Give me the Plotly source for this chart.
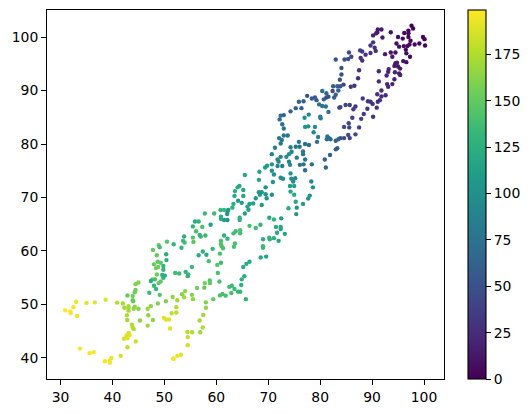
import plotly.graph_objects as go

# upper band
x_a = [97.6,97.9,97.0,97.0,96.2,99.8,100.1,95.0,95.9,97.0,97.4,98.2,99.1,100.2,94.7,95.2,96.1,96.8,97.2,96.5,
       96.6,97.3,96.0,96.6,94.5,93.6,92.5,93.9,93.6,91.1,91.8,91.0,90.8,90.2,92.0,90.2,89.7,90.5,90.7,89.7,
       88.75,87.7,88.1,87.8,88.1,85.55,86.0,85.4,84.7,83.0,84.1,84.1,83.8,84.5,82.5,83.3,83.9,83.5,82.4,83.0,
       82.7,81.2,80.4,80.7,81.6,81.2,77.5,78.4,79.0,79.3,76.8,75.9,75.3,76.4,74.3,73.0,72.4,72.2,72.7,73.0,
       72.1,73.0,73.75,79.8,80.4,81.1,80.0,80.1,81.6,77.8,77.0,77.1,77.7,79.0,78.75,79.6,81.4,81.7,83.9,83.7,
       84.9,85.7,86.8,86.4,88.2,89.1,89.2,89.7,90.1,91.1,91.5,91.8,92.6,90.9,90.2,88.4,87.9,86.2,85.5,84.6,
       85.6,87.5,86.8,85.4,83.9,84.6,85.7,91.0,91.8,92.9,93.1,93.9,94.3,95.2,95.4,94.4,93.2,93.1,92.8,91.3,
       91.3,87.5,87.3,86.6,85.9,94.5,94.8,94.3,95.4,95.0]
y_a = [102.1,101.6,101.2,100.7,100.75,100.0,99.6,100.0,99.7,100.0,99.3,98.6,98.8,98.4,98.8,98.2,98.3,98.3,98.6,97.6,
       96.95,96.3,95.5,95.3,97.1,97.1,96.8,96.3,100.9,101.4,101.4,100.9,100.7,100.3,99.9,99.0,98.4,98.0,97.4,97.0,
       96.7,97.5,97.3,96.1,95.6,97.1,96.3,95.9,95.8,95.8,94.2,93.0,92.0,91.1,90.8,90.8,90.8,90.0,89.9,89.2,
       88.7,89.5,89.9,88.35,88.85,88.7,89.0,88.5,88.7,88.2,88.0,87.9,86.7,86.7,86.1,85.4,85.3,84.6,83.7,82.9,
       81.1,81.6,81.6,87.4,87.1,87.0,85.1,84.8,86.0,85.5,84.9,83.2,83.3,83.2,82.2,81.3,81.4,81.1,86.9,86.8,
       87.3,87.3,87.0,86.5,88.5,86.6,88.0,87.9,87.5,87.9,88.2,88.9,89.1,86.8,85.1,85.6,84.7,84.9,83.9,83.2,
       83.1,83.1,81.8,81.7,81.1,81.1,81.1,89.3,90.0,91.2,90.7,91.2,92.1,93.2,92.9,93.4,94.0,93.5,92.8,93.6,
       91.7,93.8,92.3,90.9,90.7,95.1,95.2,94.6,94.1,94.5]
c_a = [2,3,3,5,5,3,2,8,6,4,4,4,3,2,9,9,7,6,5,7,
       8,7,10,9,11,13,15,14,10,14,13,15,16,17,14,30,32,28,27,30,
       28,36,35,30,29,45,45,47,48,52,50,50,52,40,58,57,55,60,42,62,
       60,68,70,65,50,48,52,55,58,60,62,60,62,62,62,65,68,70,72,75,
       80,78,76,72,78,80,85,88,68,92,100,102,100,95,92,88,75,72,42,42,
       40,38,33,35,35,33,32,30,30,26,26,25,24,28,30,35,38,42,42,45,
       42,38,44,44,46,45,42,27,25,22,22,20,19,18,18,19,20,20,21,24,
       24,28,28,30,32,14,14,16,16,15]

# middle band
x_b = [81.3,82.0,83.0,83.5,72.6,72.4,71.3,74.3,75.3,76.05,77.1,77.85,75.9,79.4,83.3,83.0,81.9,80.9,81.1,78.4,
       77.1,76.8,76.1,77.1,76.7,76.7,75.5,74.5,74.0,73.5,72.4,70.7,71.8,72.0,74.0,74.2,72.7,71.8,70.7,69.8,
       69.4,68.3,70.7,71.1,74.3,72.4,72.85,74.45,75.2,74.8,70.9,68.2,65.5,69.5,74.2,75.0,78.3,78.6,74.3,75.0,
       78.0,77.7,75.3,76.7,75.5,73.9,75.4,70.7,69.5,68.75,68.2,68.4,67.6,69.7,68.75,67.1,66.4,66.0,66.2,65.5,
       64.45,64.1,63.6,65.2,65.2,63.5,64.2,64.9,63.3,63.1,62.3,62.15,61.5,60.8,62.1,59.6,57.8,60.9,60.9,61.5,
       62.15,64.5,64.5,70.2,71.1,72.5,68.5,67.6,66.4,64.6,64.6,63.75,63.3,58.9,55.9,56.6,55.5,57.3,56.1,56.8,
       57.0,57.9,53.8,53.6,53.9,55.5,55.6,53.3,61.5,62.15,60.9,60.9,61.05,61.3,63.6,63.4,59.3,57.4,58.1,56.6,
       60.7,68.55,69.0,69.0,69.0,69.6,70.2,70.3,71.1,72.0,71.5,72.4,72.4,71.7,73.2]
y_b = [80.9,80.9,80.6,80.9,80.75,80.1,79.3,79.4,79.5,79.5,80.0,79.8,80.4,80.4,79.2,79.0,77.95,77.1,75.6,76.2,
       77.1,76.2,76.1,75.1,78.6,78.1,77.45,78.55,78.1,77.6,77.6,78.1,77.1,76.7,76.7,76.1,75.9,75.9,76.2,75.95,
       75.6,74.8,75.0,74.3,74.5,73.7,73.5,73.5,73.6,73.0,72.9,73.3,74.2,71.9,72.15,72.15,73.0,71.9,71.1,70.5,
       70.35,69.8,69.2,68.8,68.1,68.0,66.9,70.5,70.6,71.0,71.0,70.5,69.85,69.85,68.6,68.9,68.8,68.3,67.7,67.0,
       72.15,71.9,71.2,71.4,70.3,70.3,69.4,69.0,68.8,68.1,67.65,67.35,67.65,67.65,66.9,67.0,67.0,66.4,66.0,65.8,
       65.8,66.2,65.8,66.2,65.9,66.1,64.9,64.3,64.7,63.9,63.3,63.7,63.3,64.9,65.5,65.5,64.6,64.5,63.7,63.0,
       62.7,62.9,62.7,61.9,61.6,62.5,61.7,60.6,62.9,62.3,61.9,61.3,60.9,60.5,61.4,60.8,60.4,59.9,59.3,59.2,
       59.5,58.8,62.2,60.9,60.6,58.95,62.5,62.2,62.4,61.9,64.5,64.5,64.1,63.4,63.2]
c_b = [72,68,62,60,75,78,85,85,80,80,72,72,80,72,58,58,62,62,65,72,
       75,75,78,72,78,80,82,92,100,100,90,88,92,92,88,92,85,90,105,108,
       110,115,100,100,100,95,95,96,92,96,100,115,118,100,108,112,92,98,116,120,
       100,100,120,108,106,122,104,98,102,105,105,105,106,100,108,110,112,116,115,112,
       120,122,125,118,115,122,108,108,125,126,105,105,130,132,105,135,135,125,125,108,
       106,128,128,120,130,110,130,138,138,140,140,138,138,110,122,128,130,140,140,130,
       132,135,125,135,138,145,146,130,125,130,140,142,142,142,140,140,130,125,120,125,
       140,118,125,135,135,115,130,128,125,115,120,118,118,118,115]

# lower band
x_c = [47.8,48.9,49.1,50.5,51.8,48.55,50.35,50.4,48.0,48.7,49.3,49.8,48.8,48.4,49.8,48.55,49.6,50.1,49.8,52.1,
       52.85,47.7,48.2,47.4,49.3,48.9,48.0,48.4,47.1,49.1,45.0,44.45,44.45,44.3,42.9,43.9,43.9,44.0,50.3,48.75,
       47.4,46.8,46.9,47.8,46.8,45.3,43.1,42.3,43.1,43.1,44.3,44.1,45.0,42.0,40.9,42.8,42.85,43.75,43.9,44.1,
       43.1,43.3,42.7,42.9,42.2,44.5,42.9,38.7,36.6,35.0,33.0,32.5,30.9,31.9,31.95,33.2,33.75,35.6,36.4,41.6,
       39.8,39.45,39.5,38.55,49.9,50.3,50.9,51.1,51.4,52.3,52.3,52.5,51.6,53.4,54.0,53.8,55.3,55.5,56.3,57.7,
       57.8,58.75,58.8,60.6,60.3,58.0,58.0,59.4,57.5,56.8,57.4,56.9,55.35,54.45,54.5,54.5,53.2,52.5,51.7,51.8,
       60.7,61.2,61.8,62.9,62.5,63.0,63.5,64.2,64.6,65.7,64.8,64.9,65.4,65.2,65.8,66.4,58.55,60.2,60.9,55.3,
       54.1,54.6,54.5]
y_c = [60.2,61.1,60.7,61.75,61.25,59.2,59.4,58.3,57.5,58.0,57.8,57.2,57.0,56.8,56.5,55.6,55.5,55.4,55.0,55.9,
       55.8,54.7,54.7,54.4,54.3,54.0,53.5,52.9,52.2,51.8,54.1,53.8,52.7,52.3,51.7,51.6,50.8,50.6,50.6,50.2,
       49.7,49.2,48.0,47.1,46.05,47.0,49.7,49.4,49.3,48.85,49.6,49.2,49.2,50.2,50.35,48.0,47.1,46.2,45.7,45.4,
       44.7,44.3,44.2,43.7,43.6,43.1,42.0,50.9,50.4,50.3,50.5,49.5,48.9,48.7,48.4,47.85,41.75,40.9,41.1,40.4,
       40.0,39.5,39.1,39.4,47.5,47.2,47.2,45.5,48.35,48.5,49.5,50.8,51.4,51.9,52.5,51.35,51.8,51.0,53.1,53.15,
       54.0,54.5,54.0,54.3,55.9,50.4,49.4,51.0,48.05,47.0,45.7,44.8,44.8,44.85,43.9,42.4,40.6,40.4,39.9,39.8,
       51.7,51.96,51.65,52.15,53.3,53.5,52.9,52.4,52.4,51.0,53.65,54.7,55.3,57.0,57.6,58.0,58.1,57.4,57.8,57.0,
       56.1,55.6,55.3]
c_c = [150,145,140,145,130,150,125,125,150,150,148,130,155,155,130,155,125,125,128,135,
       135,150,140,125,150,150,130,132,135,145,160,160,155,155,150,155,152,150,160,160,
       165,168,165,165,170,165,172,170,172,172,165,165,160,172,176,175,172,175,176,176,
       187,190,188,190,188,182,180,188,190,192,195,196,198,197,197,195,197,197,197,187,
       193,195,196,195,190,190,190,190,180,178,176,170,165,162,165,170,160,165,155,150,
       155,145,148,140,140,160,165,150,170,172,175,170,175,178,180,185,190,193,195,196,
       140,140,140,140,138,135,135,130,130,128,128,125,125,125,125,122,140,145,135,135,
       130,130,130]

x_values = x_a + x_b + x_c
y_values = y_a + y_b + y_c
c_values = c_a + c_b + c_c
colorbar_ticks = [0, 25, 50, 75, 100, 125, 150, 175]

FONT = dict(family="DejaVu Sans", size=13.9, color="#000000")

fig = go.Figure(go.Scatter(
    x=x_values, y=y_values, mode="markers",
    marker=dict(
        size=4.4, color=c_values, colorscale="Viridis", cmin=0, cmax=199,
        line=dict(width=0),
        colorbar=dict(
            x=1.0616, xanchor="left", xref="paper",
            y=0.5, yanchor="middle", len=1, lenmode="fraction",
            thickness=18, thicknessmode="pixels",
            outlinewidth=1.1, outlinecolor="#000000",
            tickmode="array", tickvals=colorbar_ticks,
            ticks="outside", ticklen=4.9, tickwidth=1.1, tickcolor="#000000",
            tickfont=FONT, ypad=0, xpad=0,
        ),
    ),
    hoverinfo="skip",
))

axis = dict(
    showgrid=False, zeroline=False, showline=True, mirror=True,
    linecolor="#000000", linewidth=1.1,
    ticks="outside", ticklen=4.9, tickwidth=1.1, tickcolor="#000000",
    tickfont=FONT,
)
fig.update_xaxes(range=[27.4, 103.85], tickvals=[30, 40, 50, 60, 70, 80, 90, 100], **axis)
fig.update_yaxes(range=[36.07, 105.05], tickvals=[40, 50, 60, 70, 80, 90, 100], **axis)
fig.update_layout(
    width=524, height=405, autosize=False,
    margin=dict(l=39, r=87.5, t=2, b=34, autoexpand=False),
    paper_bgcolor="#ffffff", plot_bgcolor="#ffffff", showlegend=False,
)
fig.write_html("out.html", config={"displayModeBar": False})
